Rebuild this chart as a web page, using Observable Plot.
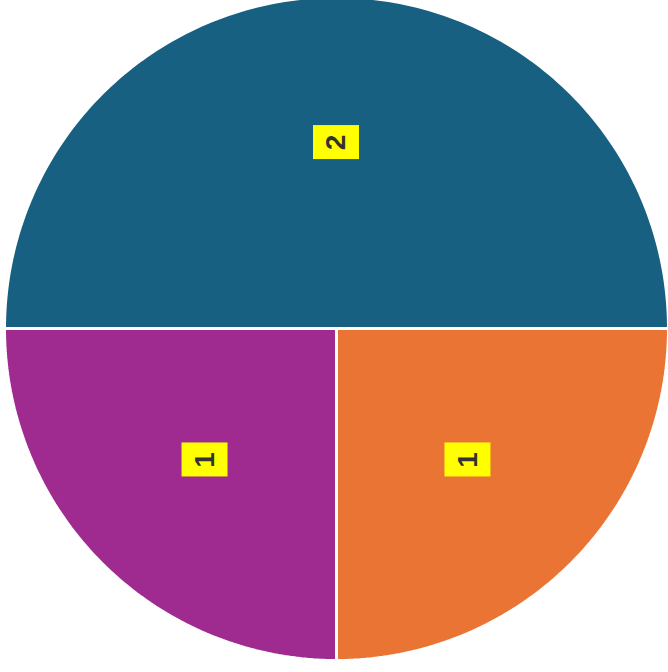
<!DOCTYPE html>
<html>
<head>
<meta charset="utf-8">
<script src="https://cdn.jsdelivr.net/npm/d3@7"></script>
<script src="https://cdn.jsdelivr.net/npm/@observablehq/plot@0.6"></script>
<style>
  html, body { margin: 0; padding: 0; background: #fff; }
  #chart { width: 668px; height: 672px; overflow: hidden; }
</style>
</head>
<body>
<div id="chart"></div>
<script>
const categories = ["A", "B", "C"];
const values = [2, 1, 1];
const labels = ["2", "1", "1"];
const colors = ["#176082", "#e97434", "#9f2b91"];

const pie = d3.pie().sort(null).value(d => d.value)
  .startAngle(-Math.PI / 2).endAngle(3 * Math.PI / 2);
const arcs = pie(categories.map((c, i) => ({category: c, value: values[i], label: labels[i]})));

// polygon outline per slice (unit radius), derived from the pie layout
const slicePts = [];
for (const a of arcs) {
  const n = Math.max(8, Math.ceil((a.endAngle - a.startAngle) / (Math.PI / 180)));
  slicePts.push({category: a.data.category, x: 0, y: 0});
  for (let k = 0; k <= n; k++) {
    const t = a.startAngle + (a.endAngle - a.startAngle) * k / n;
    slicePts.push({category: a.data.category, x: Math.sin(t), y: Math.cos(t)});
  }
  slicePts.push({category: a.data.category, x: 0, y: 0});
}

const labelR = 0.56;
const labelPts = arcs.map(a => {
  const m = (a.startAngle + a.endAngle) / 2;
  return {category: a.data.category, label: a.data.label, x: labelR * Math.sin(m), y: labelR * Math.cos(m)};
});

const chart = Plot.plot({
  width: 668,
  height: 672,
  margin: 0,
  x: {domain: [-1, 1], range: [4, 668], axis: null},
  y: {domain: [-1, 1], range: [660, -4], axis: null},
  color: {domain: categories, range: colors},
  style: {background: "white", overflow: "hidden"},
  marks: [
    Plot.line(slicePts, {
      x: "x", y: "y", z: "category", fill: "category",
      stroke: "white", strokeWidth: 3, strokeLinejoin: "miter", curve: "linear"
    }),
    Plot.rect(labelPts, {
      x1: "x", x2: "x", y1: "y", y2: "y",
      insetLeft: -23, insetRight: -23, insetTop: -17, insetBottom: -17,
      fill: "#ffff00"
    }),
    Plot.text(labelPts, {
      x: "x", y: "y", text: "label", rotate: -90,
      fill: "#333333", fontSize: 28, fontWeight: "bold",
      fontFamily: "Liberation Sans, Arial, sans-serif"
    })
  ]
});
document.getElementById("chart").appendChild(chart);
</script>
</body>
</html>
